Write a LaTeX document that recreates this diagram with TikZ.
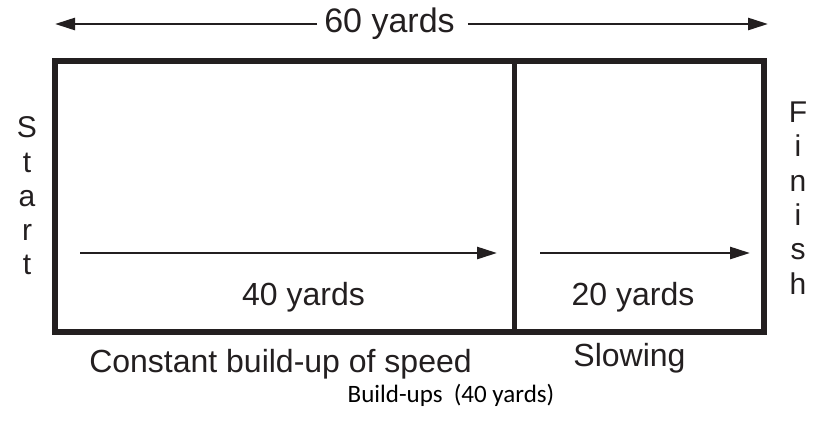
\documentclass[tikz,border=0pt]{standalone}
\usepackage{fontspec}
\setmainfont{Liberation Sans}
\newfontfamily\capfont{Carlito}
\usetikzlibrary{arrows.meta}
\definecolor{ink}{HTML}{231F20}
\begin{document}
\begin{tikzpicture}[x=1pt,y=-1pt,
  lbl/.style={inner sep=0pt,text=ink,font=\fontsize{32}{34}\selectfont},
  vlbl/.style={inner sep=0pt,text=ink,align=center,font=\fontsize{30}{34.3}\selectfont},
  frame/.style={draw=ink,line width=6pt},
  divider/.style={draw=ink,line width=5pt},
  arr/.style={draw=ink,line width=2.6pt,-{Triangle[length=20pt,width=12pt]}}]
\useasboundingbox[fill=white] (0,0) rectangle (813,424);
% frame
\node[frame,minimum width=709pt,minimum height=271pt,inner sep=0pt] (field) at (409.5,196.5) {};
\coordinate (dtop) at (514,61);
\coordinate (dbot) at (514,332);
\draw[divider] (dtop) -- (dbot);
% top
\node[lbl,font=\fontsize{34}{36}\selectfont] (t60) at (389.5,24) {60 yards};
\coordinate (tl) at (55,24);
\coordinate (tr) at (768,24);
\draw[arr] ([xshift=-7pt]t60.west) -- (tl);
\draw[arr] ([xshift=13pt]t60.east) -- (tr);
% inner arrows
\coordinate (a40s) at (80,253);
\coordinate (a40e) at (497,253);
\coordinate (a20s) at (540,253);
\coordinate (a20e) at (750,253);
\draw[arr] (a40s) -- (a40e);
\draw[arr] (a20s) -- (a20e);
\node[lbl] (l40) at (303.5,297) {40 yards};
\node[lbl] (l20) at (633,297) {20 yards};
% side labels
\node[vlbl] (start) at (27,196) {S\\t\\a\\r\\t};
\node[vlbl] (finish) at (798,198) {F\\i\\n\\i\\s\\h};
% bottom
\node[lbl] (cbu) at (280.5,364) {Constant build-up of speed};
\node[lbl] (slow) at (629.5,358) {Slowing};
\node[inner sep=0pt,text=black,font=\capfont\fontsize{25}{27}\selectfont] (cap) at (451,395) {Build-ups\ \ (40 yards)};
\end{tikzpicture}
\end{document}
